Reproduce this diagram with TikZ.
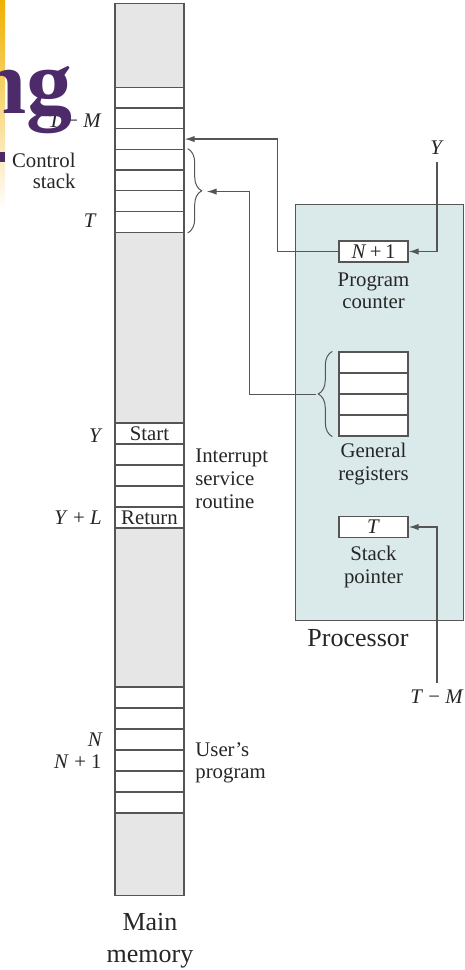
\documentclass[tikz,border=0pt]{standalone}
\usepackage{fontspec}
\setmainfont{Liberation Serif}
\usetikzlibrary{arrows.meta,decorations.pathreplacing,positioning}
\definecolor{memgray}{RGB}{230,230,230}
\definecolor{procfill}{RGB}{218,234,235}
\definecolor{linegray}{RGB}{85,85,85}
\definecolor{slidepurple}{RGB}{77,43,106}
\definecolor{slideyellow}{RGB}{240,176,0}

\begin{document}
\begin{tikzpicture}[x=0.5pt, y=-0.5pt, >={Latex[length=5pt,width=3.2pt]},
      every node/.append style={font=\fontsize{10.4}{11}\selectfont,text=black!85},
      cell/.style={draw=linegray,fill=white,line width=0.7pt,minimum width=34.5pt,minimum height=10.4pt,inner sep=0pt},
      wire/.style={draw=linegray,line width=0.6pt},
      curly/.style={draw=linegray,line width=0.5pt,decorate,decoration={brace,amplitude=7pt}}]
    \tikzstyle{addr} = [anchor=east,inner sep=0pt]
    \tikzstyle{big} = [font=\fontsize{13}{16}\selectfont]
    \useasboundingbox (0,0) rectangle (465,970);
    \clip (0,0) rectangle (465,970);
    \shade[top color=slideyellow,bottom color=white] (0,0) rectangle (5,210);
    \fill[slidepurple] (0,152) rectangle (5,162);

    \node (mem) [draw=linegray,fill=memgray,line width=0.7pt,minimum width=34.5pt,minimum height=446pt,anchor=north] at (149.5,3) {};
    \foreach \i in {1,...,7}
      \node (cs\i) [cell] at (149.5,{76.95+20.7*\i}) {};
    \foreach \i/\txt in {1/Start,2/,3/,4/,5/Return}
      \node (isr\i) [cell] at (149.5,{412.5+21*\i}) {\txt};
    \foreach \i in {1,...,6}
      \node (up\i) [cell] at (149.5,{676.5+21*\i}) {};

    \node (proc) [draw=linegray,fill=procfill,line width=0.7pt,anchor=north west,minimum width=84pt,minimum height=208pt,inner sep=0pt] at (295,204) {};
    \node (pc) [cell] at (373.5,251.5) {\textit{N}\,+\,1};
    \foreach \i in {1,...,4}
      \node (gr\i) [cell] at (373.5,{341.5+21*\i}) {};
    \node (sp) [cell] at (373.5,527) {\textit{T}};

    \node (pclabel) [align=center] at (373.5,291) {Program\\counter};
    \node (grlabel) [align=center,font=\fontsize{10.4}{11.5}\selectfont] at (373.5,464) {General\\registers};
    \node (splabel) [align=center,font=\fontsize{10.4}{11.5}\selectfont] at (373.5,567) {Stack\\pointer};
    \node (proclabel) [big] at (358,638) {Processor};
    \node (memlabel) [big,align=center] at (150,941) {Main\\memory};
    \node (cslabel) [addr,align=right,font=\fontsize{10.4}{10.5}\selectfont] at (76,171) {Control\\stack};
    \node (isrlabel) [anchor=west,inner sep=0pt,align=left,font=\fontsize{10.4}{11.5}\selectfont] at (195,479) {Interrupt\\service\\routine};
    \node (uplabel) [anchor=west,inner sep=0pt,align=left] at (195,763) {User's\\program};

    \node (tm) [addr] at (102,121) {\textit{T} − \textit{M}};
    \node (t) [addr] at (97,221) {\textit{T}};
    \node (y) [addr] at (103,436) {\textit{Y}};
    \node (yl) [addr] at (102,518) {\textit{Y} + \textit{L}};
    \node (n) [addr] at (103,740) {\textit{N}};
    \node (n1) [addr] at (102,762) {\textit{N} + 1};
    \node (yin) at (437,148) {\textit{Y}};
    \node (tmin) at (437,697) {\textit{T} − \textit{M}};

    \draw[curly] ([xshift=1.5pt]cs4.north east) -- ([xshift=1.5pt]cs7.south east);
    \coordinate (cstip) at ([xshift=11pt]cs5.south east);
    \draw[curly] ([xshift=-3pt]gr4.south west) -- ([xshift=-3pt]gr1.north west);
    \coordinate (grtip) at ([xshift=-11pt]gr2.south west);

    \draw[wire,->] (yin) |- (pc);
    \draw[wire,->] (tmin) |- (sp);
    \draw[wire,->] (pc.west) -- ++(-61,0) |- (cs3.east);
    \draw[wire,->] (grtip) -- ++(-67,0) |- (cstip);

    \node (title) [anchor=base east,inner sep=0pt,text=slidepurple,font=\fontsize{46}{46}\selectfont\bfseries] at (73,113) {ng};
  \end{tikzpicture}
\end{document}
